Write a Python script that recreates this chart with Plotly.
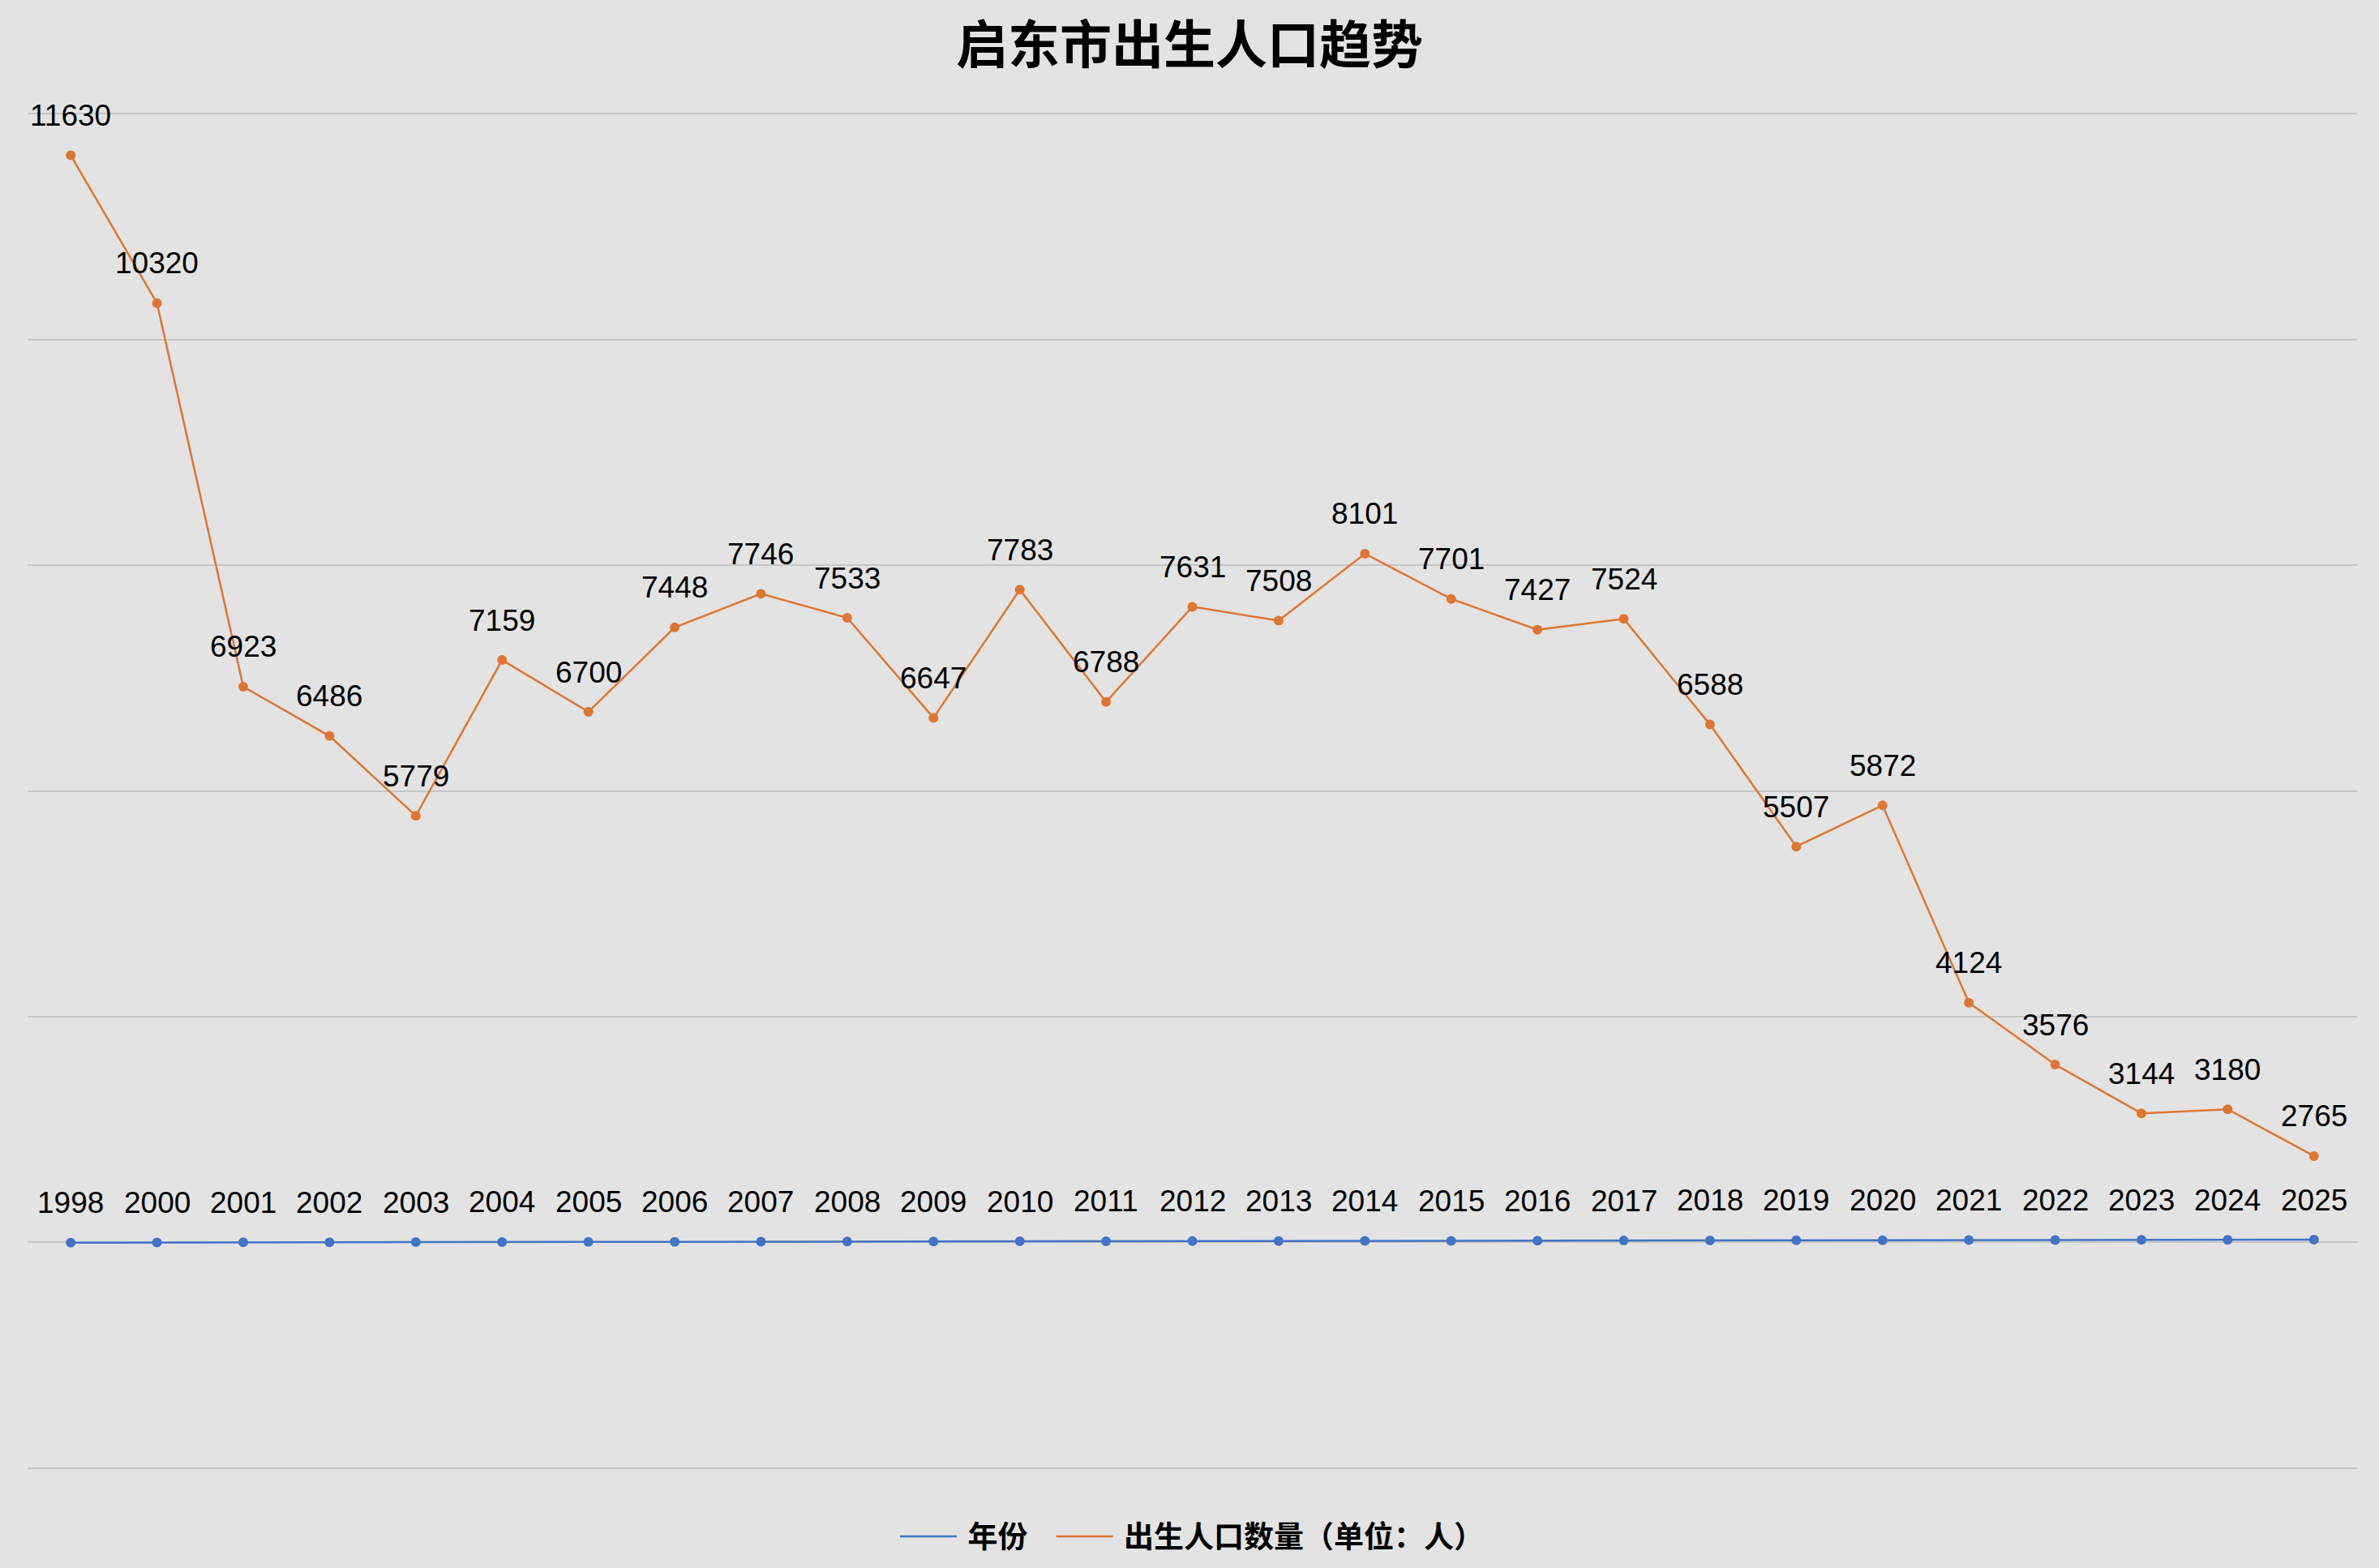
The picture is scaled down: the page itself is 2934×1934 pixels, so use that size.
import plotly.graph_objects as go

years = [1998, 2000, 2001, 2002, 2003, 2004, 2005, 2006, 2007, 2008, 2009, 2010, 2011,
         2012, 2013, 2014, 2015, 2016, 2017, 2018, 2019, 2020, 2021, 2022, 2023, 2024, 2025]
births = [11630, 10320, 6923, 6486, 5779, 7159, 6700, 7448, 7746, 7533, 6647, 7783, 6788,
          7631, 7508, 8101, 7701, 7427, 7524, 6588, 5507, 5872, 4124, 3576, 3144, 3180, 2765]
categories = [str(y) for y in years]
y_ticks = [0, 2000, 4000, 6000, 8000, 10000, 12000]

title_text = "启东市出生人口趋势"
name_year = "年份"
name_births = "出生人口数量（单位：人）"

BLUE = "#4472C4"
ORANGE = "#DE7633"
BG = "#E3E3E3"
FONT = "Liberation Sans, Noto Sans CJK SC, sans-serif"
CJK = "Noto Sans CJK SC, sans-serif"
NB = "\u00a0"

fig = go.Figure()
series = [(years, BLUE, NB + name_year + NB * 3), (births, ORANGE, NB + name_births)]
for values, color, name in series:
    fig.add_trace(go.Scatter(
        x=categories, y=values, mode="lines+markers", showlegend=False,
        line=dict(color=color, width=2.5), marker=dict(color=color, size=12),
        hoverinfo="x+y",
    ))
    fig.add_trace(go.Scatter(
        x=[None], y=[None], mode="lines", name=name, showlegend=True,
        line=dict(color=color, width=2.5),
    ))
    for i, v in enumerate(values):
        fig.add_annotation(x=i, y=v, xref="x", yref="y", text=str(v), showarrow=False,
                           yanchor="middle", xanchor="center", yshift=49,
                           font=dict(family=FONT, size=37, color="#000000"))

fig.update_layout(
    width=2934, height=1934,
    margin=dict(l=34, r=27, t=130, b=113, autoexpand=False),
    paper_bgcolor=BG, plot_bgcolor=BG,
    title=dict(text=f"<b>{title_text}</b>", x=0.5, xanchor="center", y=1 - 56 / 1934,
               yanchor="middle", font=dict(family=CJK, size=64, color="#000000")),
    showlegend=True,
    legend=dict(orientation="h", x=0.5, xanchor="center", y=-0.044, yanchor="middle",
                font=dict(family=CJK, size=37, color="#000000", weight="bold"),
                itemwidth=70, bgcolor="rgba(0,0,0,0)"),
    xaxis=dict(type="category", range=[-0.5, len(categories) - 0.5], showticklabels=False,
               showgrid=False, zeroline=False, showline=False, ticks=""),
    yaxis=dict(range=[-72, 12072], tickvals=y_ticks,
               showticklabels=False, showgrid=True, gridcolor="#C6C6C6", gridwidth=2,
               zeroline=False, showline=False, ticks=""),
)

fig.write_html(
    "out.html",
    config={"displayModeBar": False},
    post_script=("document.documentElement.style.margin='0';"
                 "document.documentElement.style.overflow='hidden';"
                 "document.body.style.margin='0';"
                 "document.body.style.overflow='hidden';"
                 "document.body.style.background='#E3E3E3';"),
)
